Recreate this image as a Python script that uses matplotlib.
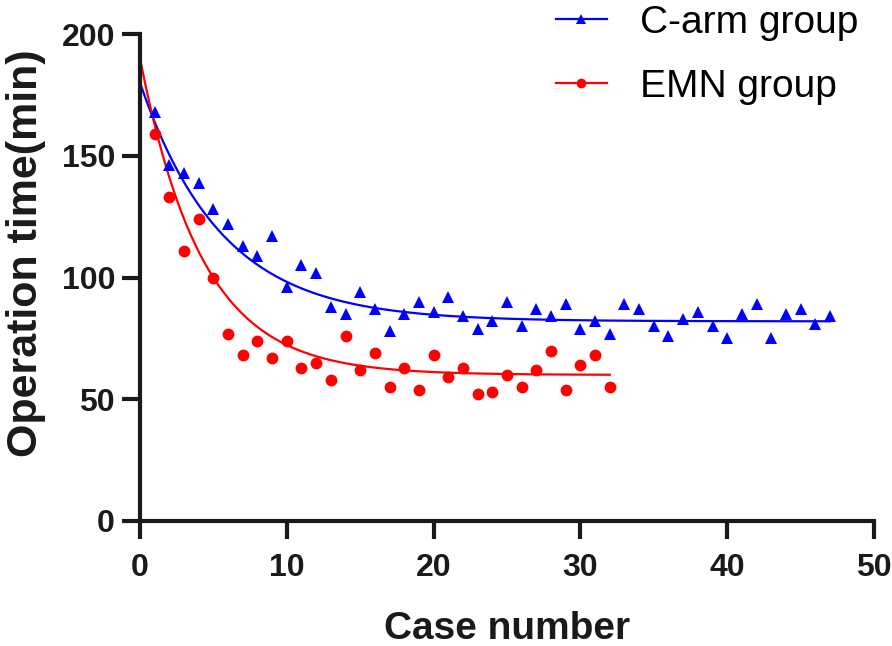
import numpy as np
import matplotlib
matplotlib.use("Agg")
import matplotlib.pyplot as plt
from matplotlib.lines import Line2D

plt.rcParams['font.family'] = ['Liberation Sans', 'DejaVu Sans']

# case numbers and operation times (min)
carm_case = np.arange(1, 48)
carm_time = [168, 146, 143, 139, 128, 122, 113, 109, 117, 96,
             105, 102, 88, 85, 94, 87, 78, 85, 90, 86,
             92, 84, 79, 82, 90, 80, 87, 84, 89, 79,
             82, 77, 89, 87, 80, 76, 83, 86, 80, 75,
             85, 89, 75, 85, 87, 81, 84]

emn_case = np.arange(1, 33)
emn_time = [159, 133, 111, 124, 100, 77, 68, 74, 67, 74,
            63, 65, 58, 76, 62, 69, 55, 63, 54, 68,
            59, 63, 52, 53, 60, 55, 62, 70, 54, 64,
            68, 55]

# one-phase decay fits: Y0, plateau, K
carm_fit = (180.0, 82.0, 0.18)
emn_fit = (190.0, 60.0, 0.236)

BLUE = '#0000ff'
RED = '#ff0000'
INK = '#1a1a1a'


def decay(x, p):
    y0, plateau, k = p
    return plateau + (y0 - plateau) * np.exp(-k * x)


fig = plt.figure(figsize=(8.92, 6.46), dpi=100)
ax = fig.add_axes([140 / 892, 1 - 521 / 646, 734 / 892, 487 / 646])

xc = np.linspace(0, carm_case.max(), 300)
xe = np.linspace(0, emn_case.max(), 300)
ax.plot(xc, decay(xc, carm_fit), color=BLUE, lw=1.6, clip_on=False)
ax.plot(xe, decay(xe, emn_fit), color=RED, lw=1.6, clip_on=False)
ax.plot(carm_case, carm_time, '^', color=BLUE, ms=9, mew=0, clip_on=False)
ax.plot(emn_case, emn_time, 'o', color=RED, ms=8.5, mew=0, clip_on=False)

ax.set_xlim(0, 50)
ax.set_ylim(0, 200)
ax.set_xticks([0, 10, 20, 30, 40, 50])
ax.set_yticks([0, 50, 100, 150, 200])
for s in ['top', 'right']:
    ax.spines[s].set_visible(False)
for s in ['left', 'bottom']:
    ax.spines[s].set_linewidth(3)
    ax.spines[s].set_color(INK)
ax.tick_params(width=3, length=13, color=INK, labelsize=23)
ax.tick_params(axis='x', pad=10)
ax.tick_params(axis='y', pad=5)
for lab in ax.get_xticklabels() + ax.get_yticklabels():
    lab.set_fontweight('bold')
    lab.set_color(INK)

ax.set_xlabel('Case number', fontsize=28, fontweight='bold', labelpad=20, color=INK)
ax.set_ylabel('Operation time(min)', fontsize=31, fontweight='bold', color=INK)
ax.yaxis.set_label_coords(-0.128, 0.55)

handles = [Line2D([], [], color=BLUE, lw=1.6, marker='^', ms=7, mew=0),
           Line2D([], [], color=RED, lw=1.6, marker='o', ms=7, mew=0)]
fig.legend(handles, ['C-arm group', 'EMN group'], loc='upper left',
           bbox_to_anchor=(521 / 892, 1.047), frameon=False, fontsize=28,
           handlelength=1.3, handletextpad=0.85, labelspacing=0.73)

fig.savefig('out.png', dpi=100)
